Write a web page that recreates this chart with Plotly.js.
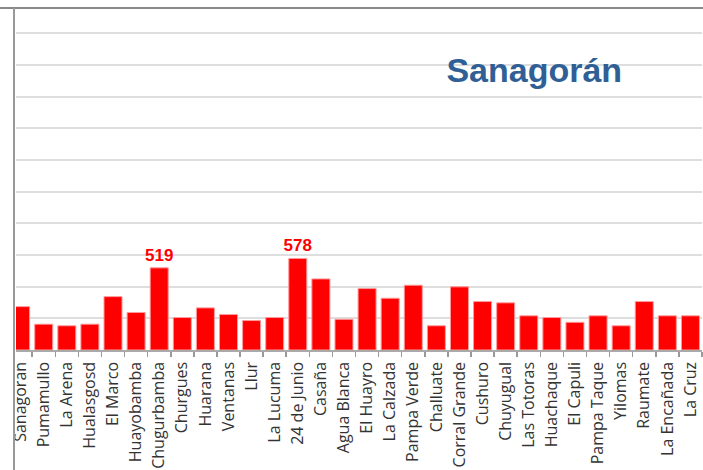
<!DOCTYPE html>
<html>
<head>
<meta charset="utf-8">
<script src="https://cdn.plot.ly/plotly-3.0.1.min.js"></script>
<style>html,body{margin:0;padding:0;background:#fff;}#chart{width:703px;height:470px;}</style>
</head>
<body>
<div id="chart"></div>
<script>
const categories = ["Sanagoran","Pumamullo","La Arena","Hualasgosd","El Marco","Huayobamba","Chugurbamba","Churgues","Huarana","Ventanas","Llur","La Lucuma","24 de Junio","Casaña","Agua Blanca","El Huayro","La Calzada","Pampa Verde","Challuate","Corral Grande","Cushuro","Chuyugual","Las Totoras","Huachaque","El Capuli","Pampa Taque","Yilomas","Raumate","La Encañada","La Cruz"];
const values = [274,163,153,163,337,237,519,205,266,224,186,205,578,449,194,388,327,409,153,399,306,298,216,205,175,216,153,306,216,216];
const valueLabels = ["","","","","","","519","","","","","","578","","","","","","","","","","","","","","","","",""];
const chartTitle = "Sanagorán";

const trace = {
  type: "bar",
  x: categories,
  y: values,
  text: valueLabels,
  textposition: "outside",
  constraintext: "none",
  cliponaxis: false,
  textfont: {family: "Liberation Sans, Arial, sans-serif", size: 17, color: "#ff0000", weight: "bold"},
  marker: {color: "#ff0000", line: {color: "#ff9a9a", width: 1}},
  hoverinfo: "none"
};

const layout = {
  width: 703, height: 470,
  margin: {l: 16, r: 1, t: 8, b: 120, pad: 0},
  paper_bgcolor: "#fff", plot_bgcolor: "#fff",
  showlegend: false,
  bargap: 0.22,
  title: {
    text: "<b>" + chartTitle + "</b>",
    font: {family: "Liberation Sans, Arial, sans-serif", size: 34, color: "#305f96"},
    x: 0.76, xref: "container", xanchor: "center",
    y: 0.851, yref: "container", yanchor: "middle"
  },
  xaxis: {
    type: "category",
    range: [-0.2, 29.5],
    tickangle: -90,
    tickson: "boundaries",
    ticks: "outside", ticklen: 5, tickwidth: 1.5, tickcolor: "#999",
    ticklabelstandoff: 4,
    showline: true, linecolor: "#aaa", linewidth: 1.5,
    showgrid: false,
    tickfont: {family: "Open Sans, sans-serif", size: 16, color: "#333"},
    automargin: false
  },
  yaxis: {
    range: [0, 2160],
    dtick: 200,
    showgrid: true, gridcolor: "#dedede", gridwidth: 2,
    showticklabels: false,
    zeroline: false,
    showline: false
  },
  shapes: [
    {type: "line", xref: "paper", yref: "paper", x0: -0.03, x1: 1.01, y0: 1, y1: 1, line: {color: "#888", width: 2}},
    {type: "line", xref: "paper", yref: "paper", x0: -0.0029, x1: -0.0029, y0: 1, y1: -0.4, line: {color: "#999", width: 2}}
  ]
};

Plotly.newPlot("chart", [trace], layout, {displayModeBar: false, staticPlot: true});
</script>
</body>
</html>
